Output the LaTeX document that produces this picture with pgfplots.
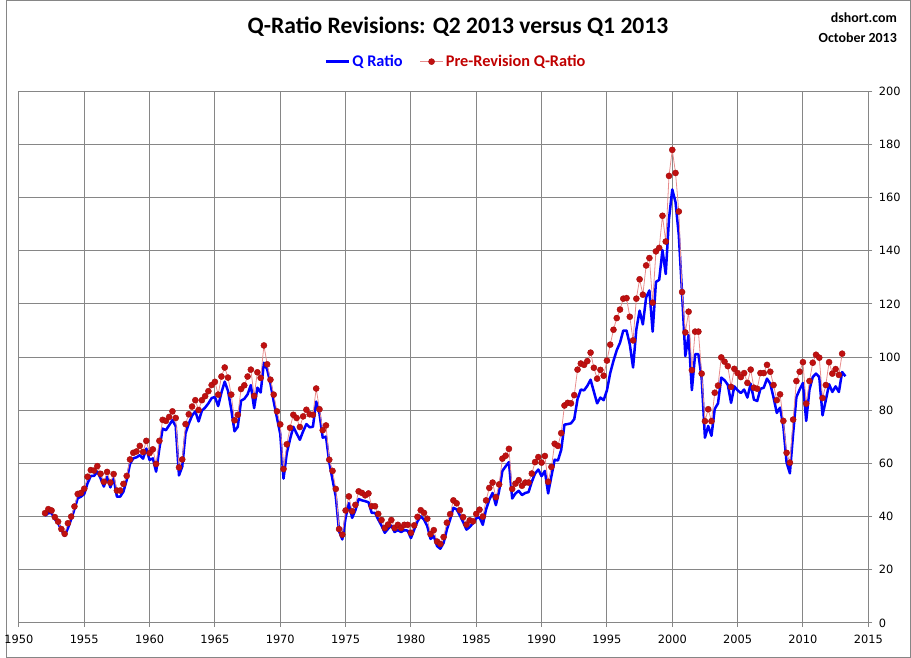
\documentclass[border=0pt]{standalone}
\usepackage{pgfplots}
\pgfplotsset{compat=1.18}
\usepackage{pgfplotstable}
\usepackage{fontspec}
\setmainfont{Carlito}
\newfontfamily\tickfont{DejaVu Sans}
\definecolor{qblue}{RGB}{0,0,255}
\definecolor{predot}{RGB}{192,16,16}
\definecolor{pretext}{RGB}{192,0,0}
\definecolor{preline}{RGB}{232,140,140}
\definecolor{gridc}{RGB}{134,134,134}

\pgfplotstableread{
year q pre
1952.00 40.3 41.3
1952.25 41.3 42.8
1952.50 41.3 42.3
1952.75 39.0 39.8
1953.00 37.5 38.1
1953.25 35.0 35.3
1953.50 32.8 33.5
1953.75 35.6 37.5
1954.00 39.0 40.0
1954.25 42.8 43.8
1954.50 46.9 48.5
1954.75 47.5 48.9
1955.00 48.5 50.5
1955.25 52.5 55.0
1955.50 55.3 57.5
1955.75 55.3 57.3
1956.00 56.9 59.0
1956.25 54.4 56.1
1956.50 51.3 53.1
1956.75 55.0 56.8
1957.00 51.0 52.8
1957.25 54.4 56.0
1957.50 47.5 49.8
1957.75 47.5 49.8
1958.00 49.4 52.3
1958.25 53.8 55.3
1958.50 59.8 61.5
1958.75 61.9 64.0
1959.00 62.3 64.5
1959.25 63.1 66.6
1959.50 61.8 64.3
1959.75 65.6 68.5
1960.00 61.3 63.9
1960.25 61.9 65.3
1960.50 56.9 59.8
1960.75 65.6 68.5
1961.00 73.1 76.4
1961.25 72.5 76.0
1961.50 74.4 77.5
1961.75 76.3 79.6
1962.00 74.0 77.1
1962.25 55.5 58.5
1962.50 58.8 61.5
1962.75 71.3 74.8
1963.00 75.0 78.5
1963.25 78.0 81.4
1963.50 79.6 83.8
1963.75 75.8 80.1
1964.00 79.8 83.8
1964.25 81.0 85.3
1964.50 82.6 87.2
1964.75 84.6 89.5
1965.00 85.0 90.7
1965.25 81.6 85.9
1965.50 86.7 92.7
1965.75 90.8 96.1
1966.00 87.3 92.3
1966.25 80.4 85.9
1966.50 72.1 76.2
1966.75 73.8 78.3
1967.00 83.6 88.0
1967.25 84.3 89.4
1967.50 86.0 92.7
1967.75 89.5 95.3
1968.00 80.8 85.4
1968.25 88.5 94.3
1968.50 86.7 92.2
1968.75 97.9 104.4
1969.00 95.4 97.3
1969.25 90.0 91.5
1969.50 83.3 85.9
1969.75 77.1 79.6
1970.00 71.1 74.7
1970.25 54.3 57.9
1970.50 63.9 67.2
1970.75 69.1 73.4
1971.00 73.8 78.3
1971.25 71.3 77.1
1971.50 68.9 73.7
1971.75 72.1 77.7
1972.00 74.8 80.2
1972.25 73.6 78.5
1972.50 73.8 78.3
1972.75 83.3 88.2
1973.00 78.8 80.4
1973.25 69.7 72.5
1973.50 70.1 74.3
1973.75 60.5 61.4
1974.00 53.9 57.2
1974.25 47.6 50.4
1974.50 34.5 35.3
1974.75 31.4 33.2
1975.00 39.5 42.3
1975.25 45.1 47.6
1975.50 39.5 42.0
1975.75 42.4 44.4
1976.00 46.6 49.5
1976.25 46.1 48.9
1976.50 45.8 48.0
1976.75 45.4 48.7
1977.00 41.4 43.9
1977.25 41.4 43.9
1977.50 38.9 41.0
1977.75 36.6 38.7
1978.00 33.9 35.7
1978.25 35.4 37.0
1978.50 36.6 38.7
1978.75 34.2 35.7
1979.00 34.9 36.9
1979.25 34.2 35.7
1979.50 34.9 36.9
1979.75 34.7 36.9
1980.00 31.9 33.9
1980.25 35.1 36.7
1980.50 38.2 39.9
1980.75 40.1 42.4
1981.00 38.9 41.4
1981.25 36.4 39.2
1981.50 31.6 33.4
1981.75 32.6 34.9
1982.00 28.9 30.6
1982.25 27.9 29.7
1982.50 30.1 32.3
1982.75 35.1 37.7
1983.00 38.9 40.9
1983.25 43.3 46.1
1983.50 42.7 45.0
1983.75 40.4 42.4
1984.00 37.9 39.8
1984.25 35.1 37.0
1984.50 36.1 38.6
1984.75 37.5 38.2
1985.00 39.4 41.0
1985.25 39.7 42.6
1985.50 36.9 40.0
1985.75 42.7 46.1
1986.00 46.4 50.8
1986.25 48.9 52.8
1986.50 44.3 47.3
1986.75 49.7 52.1
1987.00 57.2 61.8
1987.25 58.9 62.9
1987.50 60.5 65.5
1987.75 46.8 50.4
1988.00 48.7 52.4
1988.25 49.7 53.7
1988.50 48.1 51.6
1988.75 48.9 52.8
1989.00 49.2 52.8
1989.25 53.1 56.2
1989.50 56.2 60.5
1989.75 57.7 62.4
1990.00 55.2 60.3
1990.25 57.2 62.8
1990.50 48.7 53.1
1990.75 55.2 58.7
1991.00 61.4 67.4
1991.25 61.1 66.6
1991.50 65.1 71.4
1991.75 74.6 81.8
1992.00 74.8 82.8
1992.25 75.1 82.6
1992.50 76.7 85.7
1992.75 84.2 95.3
1993.00 87.8 97.6
1993.25 87.5 97.1
1993.50 89.2 98.5
1993.75 91.5 101.7
1994.00 87.0 96.0
1994.25 82.6 91.9
1994.50 84.8 95.2
1994.75 83.8 93.0
1995.00 87.5 98.7
1995.25 94.0 104.7
1995.50 98.6 110.3
1995.75 102.6 114.7
1996.00 105.4 117.9
1996.25 110.0 122.0
1996.50 110.0 122.2
1996.75 104.8 115.2
1997.00 96.1 106.3
1997.25 110.4 122.0
1997.50 117.5 129.3
1997.75 112.3 123.5
1998.00 122.5 134.5
1998.25 125.1 137.3
1998.50 109.6 120.5
1998.75 128.3 139.8
1999.00 129.1 141.1
1999.25 140.3 153.2
1999.50 131.3 143.5
1999.75 152.1 168.2
2000.00 163.1 178.0
2000.25 158.3 169.3
2000.50 145.9 154.8
2000.75 124.0 124.5
2001.00 100.4 109.3
2001.25 108.3 117.1
2001.50 87.6 95.1
2001.75 101.1 109.6
2002.00 101.1 109.6
2002.25 92.0 93.8
2002.50 69.7 75.9
2002.75 74.1 80.4
2003.00 70.4 75.9
2003.25 80.5 86.6
2003.50 82.6 89.3
2003.75 92.3 99.9
2004.00 91.3 98.3
2004.25 89.6 96.6
2004.50 82.8 88.8
2004.75 89.0 95.6
2005.00 87.5 94.0
2005.25 86.5 92.5
2005.50 87.8 94.0
2005.75 84.8 90.3
2006.00 90.0 95.3
2006.25 84.0 88.5
2006.50 83.5 88.1
2006.75 88.1 94.0
2007.00 88.5 94.0
2007.25 91.9 97.1
2007.50 90.0 94.5
2007.75 84.8 89.5
2008.00 79.0 83.8
2008.25 81.0 86.0
2008.50 74.0 76.0
2008.75 60.3 64.0
2009.00 56.3 60.3
2009.25 71.3 76.5
2009.50 85.0 91.0
2009.75 87.8 94.5
2010.00 90.3 98.1
2010.25 76.0 82.5
2010.50 87.8 91.0
2010.75 92.5 97.9
2011.00 93.8 100.9
2011.25 92.5 99.8
2011.50 78.1 84.6
2011.75 83.8 89.5
2012.00 89.8 98.1
2012.25 86.9 93.8
2012.50 89.0 95.5
2012.75 86.9 93.3
2013.00 94.4 101.3
2013.25 92.8 nan
}\qdata

\begin{document}
\begin{tikzpicture}
\draw[gridc, line width=0.75pt] (0.375pt,0.375pt) rectangle (682.875pt,496.125pt);
\node[font=\bfseries\fontsize{17.8}{20}\selectfont, anchor=center] at (341.25pt,476.5pt) {Q-Ratio Revisions: Q2 2013 versus Q1 2013};
\node[font=\bfseries\fontsize{10.5}{12}\selectfont, anchor=east, inner sep=0pt] at (672.75pt,483pt) {dshort.com};
\node[font=\bfseries\fontsize{10.5}{12}\selectfont, anchor=east, inner sep=0pt] at (672.75pt,468pt) {October 2013};
\begin{axis}[
  at={(9.75pt,26.25pt)}, anchor=south west,
  scale only axis, width=641.25pt, height=401.25pt,
  xmin=1950, xmax=2015, ymin=0, ymax=200,
  xtick={1950,1955,...,2015}, ytick={0,20,...,200},
  /pgf/number format/assume math mode=true,
  /pgf/number format/1000 sep={},
  ticklabel style={font=\tickfont\fontsize{8.6}{10}\selectfont, text=black},
  yticklabel pos=right, ytick pos=right, xtick pos=bottom,
  tick align=outside, major tick length=3pt,
  grid=major, major grid style={gridc, line width=0.75pt},
  axis line style={gridc, line width=0.75pt},
  tick style={gridc, line width=0.75pt},
  xticklabel style={yshift=-3pt},
  yticklabel style={xshift=1.5pt},
  legend columns=2,
  legend style={at={(0.515,1.056)}, anchor=center, draw=none, fill=none,
    font=\bfseries\fontsize{12.3}{14}\selectfont,
    /tikz/every even column/.append style={column sep=11pt}},
  legend cell align=left,
]
\addplot[color=qblue, line width=1.9pt, no marks, line join=round] table[x=year, y=q]{\qdata};
\addlegendentry{\textcolor{qblue}{Q Ratio}}
\addplot[color=preline, line width=0.6pt, mark=*, mark size=2.3pt,
  mark options={fill=predot, draw=predot!85!black, line width=0.3pt}] table[x=year, y=pre]{\qdata};
\addlegendentry{\textcolor{pretext}{Pre-Revision Q-Ratio}}
\end{axis}
\end{tikzpicture}
\end{document}
